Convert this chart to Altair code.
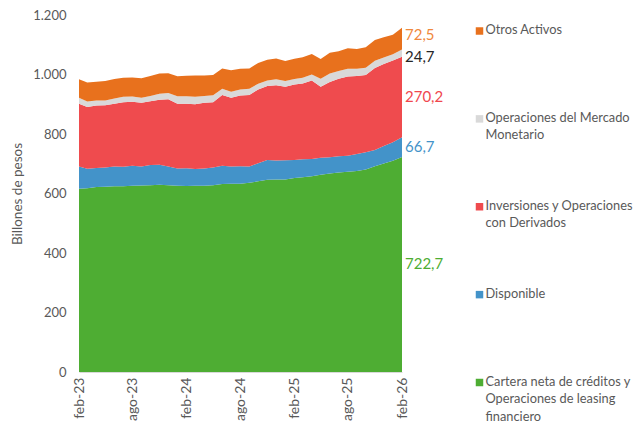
import altair as alt
import pandas as pd

# ---------------- data ----------------
months = pd.date_range("2023-02-01", periods=37, freq="MS").strftime("%Y-%m-%d").tolist()

cartera = [616, 618, 622, 623, 624, 624, 626, 627, 628, 629, 628, 626, 625, 626, 626, 628,
           632, 633, 633, 636, 641, 646, 647, 647, 652, 655, 658, 663, 667, 671, 673, 676,
           681, 692, 701, 710, 722.7]
disponible = [75, 65, 64, 64, 67, 66, 67, 64, 68, 68, 63, 58, 60, 56, 58, 59,
              61, 58, 59, 55, 61, 67, 64, 65, 61, 60, 58, 57, 55, 54, 54, 57,
              58, 54, 59, 62, 66.7]
inversiones = [211, 208, 210, 210, 211, 217, 215, 214, 214, 218, 226, 218, 217, 218, 221, 220,
               238, 231, 237, 240, 248, 248, 253, 247, 253, 255, 264, 239, 253, 261, 266, 262,
               259, 276, 275, 275, 270.2]
mercado = [20, 18, 17, 16, 17, 18, 18, 17, 18, 20, 21, 25, 25, 25, 23, 23,
           21, 20, 21, 21, 19, 19, 20, 19, 19, 19, 20, 27, 28, 26, 26, 24,
           25, 24, 22, 21, 24.7]
otros = [62, 64, 63, 65, 66, 64, 64, 65, 67, 68, 66, 67, 69, 72, 69, 68,
         68, 72, 69, 68, 70, 70, 70, 67, 68, 69, 69, 66, 70, 66, 69, 67,
         69, 70, 68, 66, 72.5]

keys = ["Cartera", "Disponible", "Inversiones", "Mercado", "Otros"]
legend_text = [
    "Cartera neta de créditos y\nOperaciones de leasing\nfinanciero",
    "Disponible",
    "Inversiones y Operaciones\ncon Derivados",
    "Operaciones del Mercado\nMonetario",
    "Otros Activos",
]
series = [cartera, disponible, inversiones, mercado, otros]

area_colors = ["#4EAD33", "#4393C9", "#EF4B4E", "#D9D9D9", "#E8711D"]
label_colors = ["#4EAD33", "#4393C9", "#F0474E", "#262626", "#F0883C"]
label_nudge = [0, 0, 0, -12, 12]   # data units, to separate crowded labels

# ---------------- frames ----------------
rows = []
for k, (key, vals) in enumerate(zip(keys, series)):
    for m, v in zip(months, vals):
        rows.append({"date": m, "key": key, "value": v, "ord": k})
df = pd.DataFrame(rows)

lab_rows = []
base = 0.0
for k, (key, vals) in enumerate(zip(keys, series)):
    v = vals[-1]
    lab_rows.append({
        "date": months[-1],
        "key": key,
        "pos": base + v / 2 + label_nudge[k],
        "txt": f"{v:.1f}".replace(".", ","),
        "tcolor": label_colors[k],
    })
    base += v
lab_df = pd.DataFrame(lab_rows)

leg_df = pd.DataFrame({"key": keys[::-1], "text": legend_text[::-1]})

FONT = "Lato"
GREY = "#595959"

color_scale = alt.Scale(domain=keys, range=area_colors)
xscale = alt.Scale(type="utc", domain=[months[0], months[-1]], nice=False)
yscale = alt.Scale(domain=[0, 1200], nice=False)

tick_dates = [alt.DateTime(year=y, month=mo, date=1, utc=True)
              for y, mo in [(2023, 2), (2023, 8), (2024, 2), (2024, 8), (2025, 2), (2025, 8), (2026, 2)]]

month_expr = ("['ene','feb','mar','abr','may','jun','jul','ago','sep','oct','nov','dic']"
              "[utcmonth(datum.value)] + '-' + utcFormat(datum.value, '%y')")

area = alt.Chart(df).mark_area(interpolate="linear", opacity=1).encode(
    x=alt.X("date:T", scale=xscale,
            axis=alt.Axis(values=tick_dates, labelExpr=month_expr, labelAngle=270,
                          title=None, grid=False, ticks=False, labelPadding=5,
                          domainColor="#D9D9D9", labelColor=GREY, labelFont=FONT,
                          labelFontSize=14)),
    y=alt.Y("value:Q", stack="zero", scale=yscale,
            axis=alt.Axis(values=[0, 200, 400, 600, 800, 1000, 1200],
                          labelExpr="replace(format(datum.value, ','), ',', '.')",
                          title="Billones de pesos", titleFont=FONT, titleFontSize=13.5,
                          titleFontWeight="normal", titleColor=GREY, titlePadding=8,
                          grid=False, ticks=False, domain=False, labelPadding=13,
                          labelColor=GREY, labelFont=FONT, labelFontSize=13)),
    color=alt.Color("key:N", scale=color_scale, legend=None),
    order=alt.Order("ord:Q"),
)

labels = alt.Chart(lab_df).mark_text(align="left", baseline="middle", dx=3,
                                     font=FONT, fontSize=15).encode(
    x=alt.X("date:T", scale=xscale),
    y=alt.Y("pos:Q", scale=yscale),
    text="txt:N",
    color=alt.Color("tcolor:N", scale=None),
)

leg_y = alt.Y("key:N", sort=keys[::-1],
              scale=alt.Scale(type="point", range=[16, 367.5], padding=0), axis=None)

leg_sq = alt.Chart(leg_df).mark_square(size=56, opacity=1).encode(
    x=alt.value(400.5),
    y=leg_y,
    color=alt.Color("key:N", scale=color_scale, legend=None),
)

leg_txt = alt.Chart(leg_df).mark_text(align="left", baseline="top", dy=-7,
                                      lineBreak="\n", lineHeight=17.5,
                                      font=FONT, fontSize=12.8, color=GREY).encode(
    x=alt.value(406.5),
    y=leg_y,
    text="text:N",
)

main = alt.layer(area, labels)
chart = alt.layer(main, leg_sq, leg_txt).resolve_scale(y="independent").properties(
    width=323,
    height=357,
    autosize=alt.AutoSizeParams(type="none"),
    padding={"left": 71, "top": 7, "right": 234, "bottom": 52},
    background="white",
).configure_view(stroke=None)

chart.save("out.html", embed_options={"renderer": "svg", "actions": False})
